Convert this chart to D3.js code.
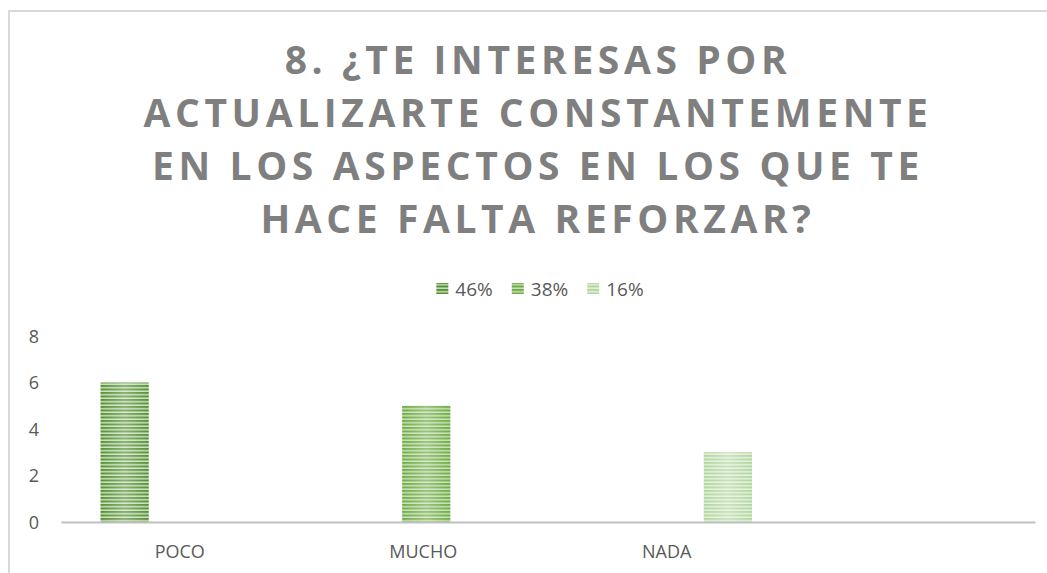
<!doctype html>
<html lang="es">
<head>
<meta charset="UTF-8">
<title>Actualizarte constantemente</title>
<style>
  body { margin: 0; background: #fff; }
  svg { display: block; font-family: 'Open Sans', sans-serif; }
  .title { font-weight: 700; fill: #7f7f7f; font-size: 39px; letter-spacing: 4.6px; }
  .tick text { fill: #595959; font-size: 18px; font-family: 'Open Sans', sans-serif; }
  .legend text { fill: #595959; font-size: 19px; }
</style>
</head>
<body>
<div class="chart"></div>
<script src="https://d3js.org/d3.v7.min.js"></script>
<script>
  const titleLines = [
    '8. ¿TE INTERESAS POR',
    'ACTUALIZARTE CONSTANTEMENTE',
    'EN LOS ASPECTOS EN LOS QUE TE',
    'HACE FALTA REFORZAR?'
  ]
  const categories = ['POCO', 'MUCHO', 'NADA', '']
  const seriesNames = ['46%', '38%', '16%']
  const values46 = [6, null, null, null]
  const values38 = [null, 5, null, null]
  const values16 = [null, null, 3, null]
  const yTicks = [0, 2, 4, 6, 8]

  const seriesValues = [values46, values38, values16]
  // dark stripe / light stripe per series
  const stripes = [
    ['#558f36', '#c9e1bb'],
    ['#6fab46', '#c6e1b4'],
    ['#b2d69e', '#e4f1dc']
  ]

  const width = 1047
  const height = 573

  const svg = d3.select('.chart')
    .append('svg')
    .attr('width', width)
    .attr('height', height)

  const defs = svg.append('defs')

  const shine = defs.append('linearGradient')
    .attr('id', 'shine')
    .attr('x1', 0).attr('x2', 1).attr('y1', 0).attr('y2', 0)
  shine.append('stop').attr('offset', '0%').attr('stop-color', '#fff').attr('stop-opacity', 0)
  shine.append('stop').attr('offset', '50%').attr('stop-color', '#fff').attr('stop-opacity', 0.3)
  shine.append('stop').attr('offset', '100%').attr('stop-color', '#fff').attr('stop-opacity', 0)

  stripes.forEach((c, i) => {
    const p = defs.append('pattern')
      .attr('id', 'stripe' + i)
      .attr('patternUnits', 'userSpaceOnUse')
      .attr('width', 8)
      .attr('height', 3.5)
    p.append('rect').attr('width', 8).attr('height', 3.5).attr('fill', c[1])
    p.append('rect').attr('width', 8).attr('height', 2).attr('fill', c[0])
  })

  // chart area border (top and left edges visible)
  svg.append('path')
    .attr('d', 'M9,573 V11 H1047')
    .attr('fill', 'none')
    .attr('stroke', '#d9d9d9')
    .attr('stroke-width', 2)

  const title = svg.append('text')
    .attr('class', 'title')
    .attr('text-anchor', 'middle')
  titleLines.forEach((line, i) => {
    title.append('tspan')
      .attr('x', 538)
      .attr('y', 74 + i * 53)
      .text(line)
  })

  const x = d3.scaleBand()
    .domain(categories)
    .range([61, 1035])
    .padding(0)

  const xInner = d3.scaleBand()
    .domain(seriesNames)
    .range([0, x.bandwidth()])
    .paddingInner(0.17)
    .paddingOuter(0.68)

  const y = d3.scaleLinear()
    .domain([0, 8])
    .range([522, 336])

  svg.append('g')
    .attr('transform', 'translate(39,0)')
    .call(d3.axisLeft(y).tickValues(yTicks).tickSize(0).tickPadding(0))
    .call(g => g.select('.domain').remove())
    .selectAll('text')
    .attr('dy', '0.35em')

  const bars = svg.append('g')
  seriesNames.forEach((name, i) => {
    const rows = categories
      .map((cat, j) => ({cat, value: seriesValues[i][j]}))
      .filter(d => d.value != null)
    const g = bars.append('g')
    g.selectAll('rect.bar')
      .data(rows)
      .enter()
      .append('rect')
      .attr('class', 'bar')
      .attr('x', d => x(d.cat) + xInner(name))
      .attr('y', d => y(d.value))
      .attr('width', xInner.bandwidth())
      .attr('height', d => y(0) - y(d.value))
      .attr('fill', `url(#stripe${i})`)
    g.selectAll('rect.shine')
      .data(rows)
      .enter()
      .append('rect')
      .attr('class', 'shine')
      .attr('x', d => x(d.cat) + xInner(name))
      .attr('y', d => y(d.value))
      .attr('width', xInner.bandwidth())
      .attr('height', d => y(0) - y(d.value))
      .attr('fill', 'url(#shine)')
  })

  svg.append('g')
    .attr('transform', `translate(0,${y(0)})`)
    .call(d3.axisBottom(x).tickSize(0).tickPadding(31))
    .call(g => g.select('.domain').attr('stroke', '#bfbfbf').attr('stroke-width', 2))
    .selectAll('text')
    .attr('dy', '0.3em')
    .attr('transform', 'translate(-3,0)')

  // legend
  const legend = svg.append('g').attr('class', 'legend')
  let lx = 0
  seriesNames.forEach((name, i) => {
    const item = legend.append('g')
    item.append('rect')
      .attr('width', 12).attr('height', 11)
      .attr('y', -6)
      .attr('fill', `url(#stripe${i})`)
    const t = item.append('text')
      .attr('x', 19)
      .attr('dy', '0.35em')
      .text(name)
    const w = 19 + t.node().getComputedTextLength()
    item.attr('transform', `translate(${lx},0)`)
    lx += w + 19
  })
  const legendWidth = lx - 19
  legend.attr('transform', `translate(${540 - legendWidth / 2},289)`)
</script>
</body>
</html>
